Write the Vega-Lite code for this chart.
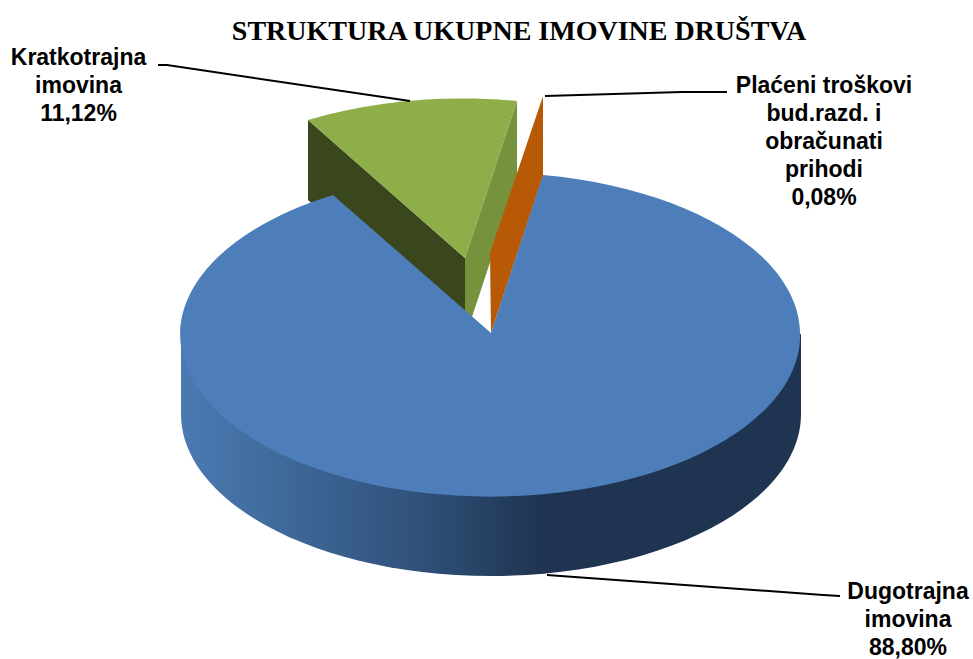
{
"$schema":"https://vega.github.io/schema/vega-lite/v6.json",
"width":973,"height":659,"padding":0,"autosize":{"type":"none"},
"background":"white",
"config":{"view":{"stroke":null}},
"title":{"text":"STRUKTURA UKUPNE IMOVINE DRUŠTVA","font":"Liberation Serif","fontSize":28,"fontWeight":"bold","color":"#000000","anchor":"middle","orient":"top","offset":0,"dx":32.5,"dy":68,"baseline":"alphabetic"},
"data":{"values":[
{"slice":"Kratkotrajna imovina","value":11.12,"label":"Kratkotrajna\nimovina\n11,12%"},
{"slice":"Plaćeni troškovi bud.razd. i obračunati prihodi","value":0.08,"label":"Plaćeni troškovi\nbud.razd. i\nobračunati\nprihodi\n0,08%"},
{"slice":"Dugotrajna imovina","value":88.80,"label":"Dugotrajna\nimovina\n88,80%"}
]},
"resolve":{"scale":{"shape":"independent","color":"independent"}},
"layer":[
{"transform":[{"filter":"datum.value == 11.12"}],
 "mark":{"type":"point","filled":true,"opacity":1,"size":4,"strokeWidth":0,"fill":"#3a471c","shape":"M-178.5,-209.5L-21.5,-71.5L-21.5,8.5L-178.5,-129.5Z"},"encoding":{}},
{"transform":[{"filter":"datum.value == 11.12"}],
 "mark":{"type":"point","filled":true,"opacity":1,"size":4,"strokeWidth":0,"fill":"#76923c","shape":"M-21.5,-71.5L30.5,-228.5L30.5,-148.5L-21.5,8.5Z"},"encoding":{}},
{"transform":[{"filter":"datum.value == 88.80"}],
 "mark":{"type":"point","filled":true,"opacity":1,"size":4,"strokeWidth":0,
  "fill":{"gradient":"linear","x1":0,"y1":0,"x2":1,"y2":0,"stops":[{"offset":0,"color":"#4a7ab2"},{"offset":0.16,"color":"#3f6a9b"},{"offset":0.4,"color":"#2f4f77"},{"offset":0.58,"color":"#1f3450"},{"offset":1,"color":"#1f3450"}]},
  "shape":"M-305.5,4.5L-305.5,84.5A310,162 0 0 0 314.5,84.5L314.5,4.5Z"},"encoding":{}},
{"mark":{"type":"point","filled":true,"opacity":1,"size":4,"strokeWidth":0},
 "encoding":{
  "shape":{"field":"slice","type":"nominal","legend":null,"scale":{
   "domain":["Kratkotrajna imovina","Plaćeni troškovi bud.razd. i obračunati prihodi","Dugotrajna imovina"],
   "range":["M-21.5,-71.5L-178.5,-209.5A310,162 0 0 1 30.5,-228.5Z","M56.5,-233.5L56.5,-153.5L4.5,3.5L3.5,-76.5Z","M4.5,3.5L56.5,-154.5A310,162 0 1 1 -153.5,-134.5Z"]}},
  "color":{"field":"slice","type":"nominal","legend":null,"scale":{
   "domain":["Kratkotrajna imovina","Plaćeni troškovi bud.razd. i obračunati prihodi","Dugotrajna imovina"],
   "range":["#8dae48","#b85a05","#4e7eba"]}}}},
{"mark":{"type":"point","filled":false,"opacity":1,"size":4,"strokeWidth":2,"stroke":"#000000"},
 "encoding":{
  "shape":{"field":"slice","type":"nominal","legend":null,"scale":{
   "domain":["Kratkotrajna imovina","Plaćeni troškovi bud.razd. i obračunati prihodi","Dugotrajna imovina"],
   "range":["M-328.5,-264.5L-319.5,-264.5L-76.5,-228.5","M58.5,-233.5L195.5,-237.5L240.5,-237.5","M60.5,245.5L336.5,265.5L353.5,266.5"]}}}},
{"mark":{"type":"text","font":"Liberation Sans","fontWeight":"bold","fontSize":23,"align":"center","baseline":"alphabetic","lineBreak":"\n","lineHeight":28,"color":"#000000"},
 "encoding":{
  "text":{"field":"label","type":"nominal"},
  "x":{"field":"value","type":"quantitative","axis":null,"scale":{"domain":[0.08,11.12,88.80],"range":[824,78.5,908],"nice":false,"zero":false}},
  "y":{"field":"value","type":"quantitative","axis":null,"scale":{"domain":[0.08,11.12,88.80],"range":[93,65,599],"nice":false,"zero":false}}}}
]
}
